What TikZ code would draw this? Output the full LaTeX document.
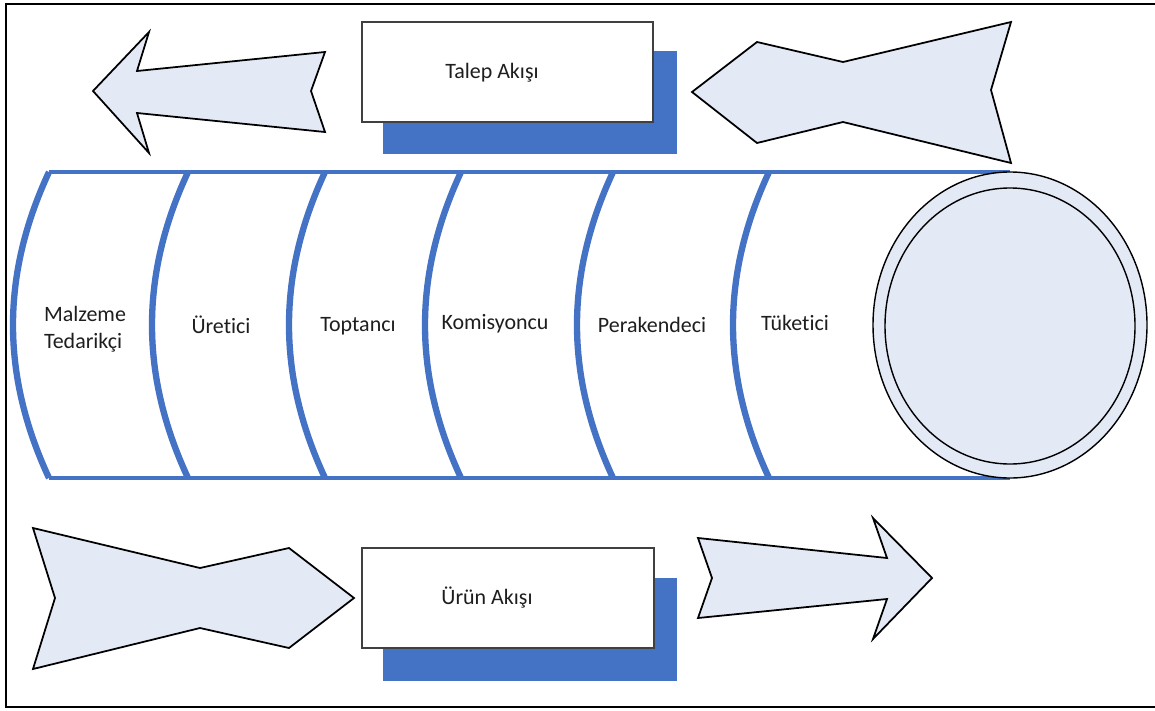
\documentclass[tikz,border=0pt]{standalone}
\usepackage{fontspec}
\setmainfont[Ligatures=NoCommon]{Carlito}
\definecolor{flowblue}{RGB}{68,114,196}
\definecolor{flowfill}{RGB}{228,234,245}
\definecolor{textgray}{RGB}{30,30,30}
\tikzset{
  shapeline/.style={draw=black, line width=1pt, fill=flowfill, line join=miter},
  stageline/.style={draw=flowblue, line width=3.6pt},
  edgeline/.style={draw=flowblue, line width=1.8pt},
  flowbox/.style={draw=black!75, line width=1.4pt, fill=white},
  shadowbox/.style={fill=flowblue},
  lbl/.style={text=textgray, font=\fontsize{12.5}{15.5}\selectfont, inner sep=0pt}
}
\begin{document}
\begin{tikzpicture}[x=0.02cm, y=-0.02cm]
    \useasboundingbox (0,0) rectangle (1155,710);
    % frame
    \draw[line width=1.5pt] (1160,4) -- (6,4) -- (6,707) -- (1160,707);
    % Talep Akisi
    \fill[shadowbox] (383,51) rectangle (677,154);
    \draw[flowbox] (362,22) rectangle (653,122);
    \node[lbl] (talep) at (492,73) {Talep Akışı};
    \draw[shapeline] (93,91) -- (149,32) -- (137,71) -- (325,52) -- (311,91)
        -- (325,132) -- (137,113) -- (149,153) -- cycle;
    \draw[shapeline] (692,92) -- (757,42) -- (843,62) -- (1011,22) -- (991,90)
        -- (1011,163) -- (843,122) -- (757,143) -- cycle;
    % pipe
    \draw[edgeline] (49,172) -- (1010,172);
    \draw[edgeline] (49,478) -- (1010,478);
    \foreach \x in {49,188,325,461,613,769}
        \draw[stageline] (\x,172) .. controls (\x-48,275) and (\x-48,375) .. (\x,478);
    \draw[draw=black, line width=0.8pt, fill=flowfill] (1010,325) ellipse [x radius=137, y radius=153];
    \draw[draw=black, line width=0.8pt, fill=flowfill] (1010,326) ellipse [x radius=125, y radius=138];
    \node[lbl, align=left] (malzeme) at (85,329) {Malzeme\\Tedarikçi};
    \node[lbl] (uretici) at (221,325) {Üretici};
    \node[lbl] (toptanci) at (358,326) {Toptancı};
    \node[lbl] (komisyoncu) at (495,324) {Komisyoncu};
    \node[lbl] (perakendeci) at (652,325) {Perakendeci};
    \node[lbl] (tuketici) at (795,323) {Tüketici};
    % Urun Akisi
    \fill[shadowbox] (383,578) rectangle (677,681);
    \draw[flowbox] (362,548) rectangle (654,648);
    \node[lbl] (urun) at (487,598) {Ürün Akışı};
    \draw[shapeline] (33,528) -- (200,568) -- (289,548) -- (354,598) -- (289,648)
        -- (200,628) -- (33,669) -- (55,598) -- cycle;
    \draw[shapeline] (698,538) -- (887,558) -- (873,518) -- (932,578) -- (873,639)
        -- (887,599) -- (698,618) -- (712,578) -- cycle;
\end{tikzpicture}
\end{document}
